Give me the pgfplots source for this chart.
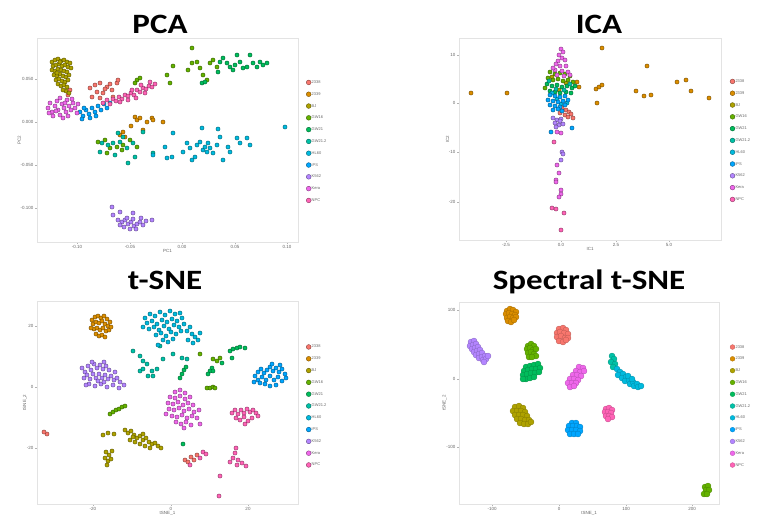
\documentclass[border=0pt]{standalone}
\usepackage{fontspec}
\setmainfont{Liberation Sans}
\newfontfamily\titlefont{Carlito}
\usepackage{graphicx}
\usepackage{pgfplots}
\pgfplotsset{compat=1.18}

% ggplot2 default hue palette for 11 groups
\definecolor{cA}{HTML}{F8766D}
\definecolor{cB}{HTML}{DB8E00}
\definecolor{cC}{HTML}{AEA200}
\definecolor{cD}{HTML}{64B200}
\definecolor{cE}{HTML}{00BD5C}
\definecolor{cF}{HTML}{00C1A7}
\definecolor{cG}{HTML}{00BADE}
\definecolor{cH}{HTML}{00A6FF}
\definecolor{cI}{HTML}{B385FF}
\definecolor{cJ}{HTML}{EF67EB}
\definecolor{cK}{HTML}{FF63B6}

\pgfplotsset{
  cls/.style={only marks, mark=*, mark size=2.1pt,
    mark options={fill=#1, draw=#1!50!black, line width=0.35pt}},
  blob/.style={only marks, mark=*, mark size=3pt,
    mark options={fill=#1, draw=#1!75!black, line width=0.3pt}},
  panel/.style={
    scale only axis, width=261pt, height=204pt,
    y dir=reverse,
    axis line style={gray!22},
    tick style={gray!60, line width=0.4pt},
    major tick length=2pt, tick align=outside,
    xtick pos=left, ytick pos=left,
    ticklabel style={font=\fontsize{4.5}{5}\selectfont, text=black!60, inner sep=1.5pt},
    label style={font=\fontsize{4.5}{5}\selectfont, text=black!60, inner sep=1pt},
    xlabel style={yshift=2pt},
    ylabel style={yshift=-3pt},
    legend cell align=left,
    legend image code/.code={\draw[##1, mark size=2.4pt] plot coordinates {(1.5pt,0pt)};},
    legend style={draw=none, fill=none, anchor=west, inner sep=0pt,
      font=\fontsize{4}{4}\selectfont, text=black!60, row sep=6.6pt,
      nodes={inner sep=0.6pt, text height=3pt, text depth=1pt}},
  },
}

\begin{document}
\begin{tikzpicture}
\useasboundingbox (0,0) rectangle (758pt,-522pt);

% ---------- PCA ----------
\node[anchor=base] at (160pt,-33pt) {\titlefont\bfseries\fontsize{28}{30}\selectfont\scalebox{1.18}[1]{PCA}};
\begin{axis}[panel, at={(37pt,-38pt)}, anchor=north west,
  xmin=37, xmax=298, ymin=38, ymax=242,
  xtick={77,130,182,235,287}, xticklabels={-0.10,-0.05,0.00,0.05,0.10},
  ytick={79,122,165,208}, yticklabels={0.050,0.000,-0.050,-0.100},
  xlabel={PC1}, ylabel={PC2},
  legend style={at={(1.031,0.493)}}]
\addplot[cls=cA] coordinates {(90,88)(95,85)(100,83)(97,92)(103,93)(107,87)(112,90)(117,83)(92,97)(100,98)(113,97)(118,80)(70,90)(68,95)(105,89)(110,84)};
\addplot[cls=cB] coordinates {(135,117)(137,120)(147,122)(152,118)(153,120)(163,122)(143,130)(123,132)(120,135)(125,137)(131,126)(140,118)};
\addplot[cls=cC] coordinates {(52,62)(55,60)(58,59)(61,61)(64,60)(67,62)(70,63)(53,66)(56,65)(59,64)(62,66)(65,65)(68,67)(71,68)(52,70)(55,71)(58,69)(61,70)(64,71)(67,72)(54,75)(57,76)(60,74)(63,76)(66,77)(69,75)(56,80)(59,79)(62,81)(65,82)(68,80)(58,84)(61,86)(64,85)(67,87)(66,91)(69,93)(63,90)(60,62)(57,73)};
\addplot[cls=cD] coordinates {(192,48)(167,75)(170,83)(173,66)(188,70)(192,63)(197,62)(200,68)(203,75)(207,80)(210,63)(213,60)(217,67)(137,80)(140,78)(135,83)(98,142)(105,140)(110,148)(117,147)(123,145)(130,140)(137,147)(107,153)(122,150)};
\addplot[cls=cE] coordinates {(220,62)(223,58)(227,63)(230,67)(233,70)(237,55)(240,62)(243,68)(247,67)(250,55)(253,63)(257,67)(260,62)(263,65)(267,63)(202,83)(205,82)(218,72)(235,65)};
\addplot[cls=cF] coordinates {(102,143)(108,145)(113,143)(120,142)(127,148)(133,143)(100,152)(115,155)(128,163)(135,157)(143,132)(123,137)(118,133)(153,153)};
\addplot[cls=cG] coordinates {(165,147)(167,158)(172,157)(173,133)(183,152)(187,143)(190,148)(192,160)(195,157)(197,145)(200,142)(202,128)(203,150)(205,147)(207,152)(208,143)(210,148)(213,153)(217,145)(218,129)(220,137)(223,160)(228,147)(230,152)(237,138)(240,143)(247,138)(250,145)(153,155)(285,127)};
\addplot[cls=cH] coordinates {(80,112)(83,116)(86,110)(89,114)(92,108)(95,112)(98,106)(101,110)(104,104)(107,108)(84,108)(90,118)(96,116)(110,103)(82,119)};
\addplot[cls=cI] coordinates {(112,207)(113,215)(120,212)(133,213)(118,220)(122,222)(125,220)(128,224)(131,222)(134,226)(137,224)(140,222)(143,225)(146,221)(152,220)(124,227)(130,229)(136,229)(127,218)(141,218)(120,225)(133,219)};
\addplot[cls=cJ] coordinates {(48,108)(50,103)(52,112)(55,106)(57,101)(58,110)(60,115)(62,104)(64,108)(66,112)(67,100)(69,106)(71,110)(73,103)(75,108)(77,113)(53,116)(63,118)(68,116)(49,113)(72,99)(60,98)(78,104)(56,111)(65,103)};
\addplot[cls=cK] coordinates {(103,103)(107,100)(110,104)(113,99)(116,101)(119,97)(122,99)(125,95)(128,96)(131,93)(134,95)(137,90)(140,92)(143,88)(146,89)(149,86)(152,87)(155,84)(145,93)(136,98)(120,102)(128,100)(141,85)(150,82)(132,90)};
\legend{2338,2339,BJ,GW16,GW21,GW21.2,HL60,iPS,K562,Kera,NPC}
\end{axis}

% ---------- ICA ----------
\node[anchor=base] at (599pt,-33pt) {\titlefont\bfseries\fontsize{28}{30}\selectfont\scalebox{1.18}[1]{ICA}};
\begin{axis}[panel, at={(459pt,-38pt)}, anchor=north west,
  xmin=459, xmax=721, ymin=38, ymax=240, width=262pt, height=202pt,
  xtick={506,561,616,669}, xticklabels={-2.5,0.0,2.5,5.0},
  ytick={55,103,152,202}, yticklabels={10,0,-10,-20},
  xlabel={IC1}, ylabel={IC2},
  legend style={at={(1.034,0.493)}}]
\addplot[cls=cA] coordinates {(562,108)(566,110)(569,112)(560,113)(565,115)(571,114)(573,118)(568,117)};
\addplot[cls=cB] coordinates {(471,93)(507,93)(577,82)(579,87)(596,89)(599,87)(602,85)(597,103)(636,91)(644,96)(651,95)(647,66)(602,48)(677,82)(686,80)(691,91)(709,98)};
\addplot[cls=cC] coordinates {(552,77)(566,83)(559,90)};
\addplot[cls=cD] coordinates {(550,72)(555,74)(560,73)(565,74)(570,76)(548,78)(553,80)(558,79)(563,81)(568,80)(573,82)(545,88)};
\addplot[cls=cE] coordinates {(547,84)(552,86)(557,85)(562,87)(567,86)(572,88)(550,91)(555,92)(560,93)(566,92)(571,93)(575,86)};
\addplot[cls=cF] coordinates {(549,81)(556,89)(564,90)(570,84)};
\addplot[cls=cG] coordinates {(552,93)(557,99)(561,104)(567,103)};
\addplot[cls=cH] coordinates {(550,95)(555,96)(560,97)(565,96)(548,100)(553,101)(558,102)(563,101)(568,100)(550,105)(555,106)(560,107)(565,105)(553,110)(558,109)(562,111)(551,132)(572,128)};
\addplot[cls=cI] coordinates {(553,118)(557,120)(561,119)(555,123)(559,125)(563,124)(556,127)(560,121)(562,152)(563,154)(561,160)};
\addplot[cls=cJ] coordinates {(561,49)(563,52)(559,55)(562,58)(558,61)(565,60)(556,64)(560,66)(566,66)(555,70)(562,71)(568,72)(557,75)(564,76)(570,75)(553,68)(561,133)(557,132)(557,165)(559,173)(556,180)(556,182)(561,190)(561,194)(559,197)};
\addplot[cls=cK] coordinates {(552,208)(556,209)(564,213)(561,230)(554,142)};
\legend{2338,2339,BJ,GW16,GW21,GW21.2,HL60,iPS,K562,Kera,NPC}
\end{axis}

% ---------- t-SNE ----------
\node[anchor=base] at (165pt,-289pt) {\titlefont\bfseries\fontsize{28}{30}\selectfont\scalebox{1.18}[1]{t-SNE}};
\begin{axis}[panel, at={(37pt,-301pt)}, anchor=north west,
  xmin=37, xmax=298, ymin=301, ymax=504, height=203pt,
  xtick={93,171,248}, xticklabels={-20,0,20},
  ytick={326,387,448}, yticklabels={20,0,-20},
  xlabel={tSNE\_1}, ylabel={tSNE\_2},
  legend style={at={(1.031,0.483)}}]
\addplot[cls=cA] coordinates {(47,434)(44,432)(185,460)(188,462)(191,457)(194,460)(197,455)};
\addplot[cls=cB] coordinates {(92,320)(95,317)(98,316)(101,318)(104,316)(107,319)(110,322)(93,324)(96,322)(99,323)(102,321)(105,324)(108,326)(94,329)(97,328)(100,330)(103,328)(106,331)(109,330)(96,334)(99,336)(102,335)(105,337)(111,327)(91,328)};
\addplot[cls=cC] coordinates {(125,430)(128,433)(131,431)(134,435)(137,438)(140,436)(143,440)(146,438)(149,442)(152,444)(155,443)(158,446)(161,448)(130,440)(135,442)(140,444)(145,446)(133,437)(150,448)(143,434)(103,435)(108,433)(114,434)(106,452)(109,455)(112,451)(105,458)(108,461)(111,459)(107,465)};
\addplot[cls=cD] coordinates {(207,388)(210,388)(213,387)(215,388)(110,414)(113,412)(116,410)(119,409)(122,407)(125,406)(200,354)(213,359)(217,361)(220,358)};
\addplot[cls=cE] coordinates {(222,363)(212,368)(210,371)(208,374)(213,371)(230,351)(233,349)(237,348)(240,347)(245,348)(232,358)(180,378)(182,374)(184,370)(186,367)(183,444)};
\addplot[cls=cF] coordinates {(133,351)(140,356)(143,361)(147,364)(152,371)(153,376)(148,376)(157,369)(140,371)(143,369)(163,359)(173,354)(182,358)(187,359)(160,346)};
\addplot[cls=cG] coordinates {(145,318)(150,314)(155,316)(160,312)(165,315)(170,311)(175,314)(180,313)(147,323)(152,321)(157,324)(162,320)(167,322)(172,319)(177,321)(182,318)(149,329)(154,327)(159,330)(164,326)(169,329)(174,325)(179,327)(184,324)(156,335)(161,333)(166,336)(171,332)(176,334)(181,331)(163,340)(168,342)(173,339)(187,331)(190,327)(192,334)(195,337)(198,340)(193,343)(188,340)(200,333)(143,327)(158,345)};
\addplot[cls=cH] coordinates {(255,376)(258,372)(261,369)(264,373)(267,370)(270,367)(273,371)(276,368)(279,372)(282,369)(285,374)(258,380)(262,377)(266,380)(270,376)(274,380)(278,377)(282,381)(286,378)(265,384)(270,386)(276,385)(280,365)(272,364)(260,383)(254,382)};
\addplot[cls=cI] coordinates {(82,368)(85,372)(88,366)(91,370)(94,364)(97,368)(100,365)(103,369)(106,366)(109,370)(84,378)(87,375)(90,379)(93,374)(96,378)(99,374)(102,378)(105,375)(108,379)(111,376)(114,380)(117,378)(120,382)(89,384)(95,386)(101,384)(107,387)(113,385)(119,388)(124,385)(86,385)(115,372)(104,382)(98,381)(92,362)(104,362)};
\addplot[cls=cJ] coordinates {(175,392)(180,390)(185,393)(170,397)(175,398)(180,396)(185,399)(190,397)(168,403)(173,404)(178,402)(183,405)(188,403)(193,405)(169,409)(174,410)(179,408)(184,411)(189,409)(194,412)(172,416)(177,417)(182,415)(187,418)(192,416)(197,418)(176,422)(181,424)(186,422)(191,425)(184,428)(199,410)(166,414)(200,424)};
\addplot[cls=cK] coordinates {(232,413)(235,410)(238,414)(241,410)(244,413)(247,409)(250,412)(253,410)(256,413)(236,418)(240,420)(244,417)(248,421)(252,418)(245,424)(258,416)(200,458)(203,452)(206,454)(190,465)(236,448)(235,453)(233,458)(230,462)(238,460)(242,463)(246,466)(237,465)(220,476)(219,496)};
\legend{2338,2339,BJ,GW16,GW21,GW21.2,HL60,iPS,K562,Kera,NPC}
\end{axis}

% ---------- Spectral t-SNE ----------
\node[anchor=base] at (589pt,-289pt) {\titlefont\bfseries\fontsize{28}{30}\selectfont\scalebox{1.18}[1]{Spectral t-SNE}};
\begin{axis}[panel, at={(459pt,-302pt)}, anchor=north west,
  xmin=459, xmax=719, ymin=302, ymax=504, width=260pt, height=202pt,
  xtick={492,559,626,692}, xticklabels={-100,0,100,200},
  ytick={310,379,447}, yticklabels={100,0,-100},
  xlabel={tSNE\_1}, ylabel={tSNE\_2},
  legend style={at={(1.042,0.485)}}]
\addplot[blob=cA] coordinates {(559,329)(563,328)(566,330)(557,333)(560,332)(564,333)(568,334)(557,337)(561,336)(565,338)(568,338)(559,341)(563,342)(566,340)};
\addplot[blob=cB] coordinates {(507,311)(510,309)(513,310)(516,312)(506,314)(509,313)(512,314)(515,315)(507,318)(510,317)(513,318)(516,317)(508,321)(511,322)(514,320)};
\addplot[blob=cC] coordinates {(515,407)(519,406)(523,408)(513,411)(517,411)(521,411)(525,412)(515,415)(519,415)(523,415)(527,416)(517,419)(521,419)(525,420)(529,420)(520,423)(524,424)(528,424)(531,422)};
\addplot[blob=cD] coordinates {(528,346)(531,344)(534,346)(527,349)(530,348)(533,350)(536,349)(528,353)(531,352)(534,354)(536,356)(529,357)(532,357)(705,487)(708,486)(706,490)(709,490)(704,494)(707,494)};
\addplot[blob=cE] coordinates {(526,367)(530,366)(534,365)(538,364)(524,371)(528,370)(532,369)(536,369)(540,368)(523,375)(527,374)(531,373)(535,373)(539,372)(526,379)(530,378)(534,377)(523,379)};
\addplot[blob=cF] coordinates {(612,356)(614,359)(611,362)(615,364)(613,367)};
\addplot[blob=cG] coordinates {(617,369)(620,372)(618,375)(623,374)(622,378)(626,377)(625,381)(629,380)(630,384)(633,382)(634,386)(637,384)(638,387)(641,386)(628,376)(632,379)};
\addplot[blob=cH] coordinates {(572,423)(576,423)(569,426)(573,426)(577,426)(580,427)(568,430)(572,430)(576,430)(580,431)(570,434)(574,434)(578,434)};
\addplot[blob=cI] coordinates {(471,342)(474,341)(470,346)(473,345)(476,344)(472,349)(475,348)(478,347)(474,352)(477,351)(480,350)(476,355)(479,354)(482,353)(479,358)(482,357)(485,356)(483,360)(486,359)(488,356)(484,362)};
\addplot[blob=cJ] coordinates {(579,367)(583,368)(576,371)(580,372)(584,371)(573,375)(577,375)(581,376)(570,379)(574,379)(578,380)(568,383)(572,383)(576,383)(570,387)(574,386)};
\addplot[blob=cK] coordinates {(606,409)(609,408)(612,410)(605,412)(608,412)(611,413)(606,416)(609,416)(612,417)(608,419)};
\legend{2338,2339,BJ,GW16,GW21,GW21.2,HL60,iPS,K562,Kera,NPC}
\end{axis}
\end{tikzpicture}
\end{document}
